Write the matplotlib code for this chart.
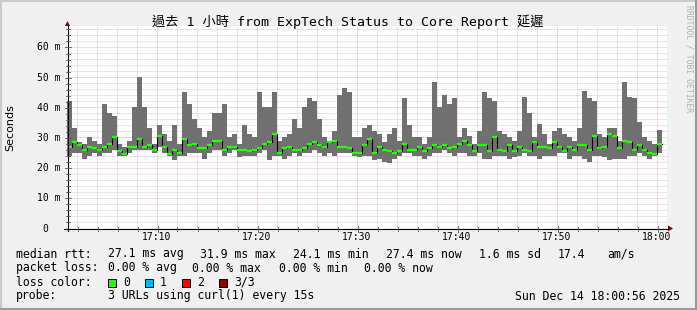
import matplotlib
matplotlib.use('Agg')
import matplotlib.pyplot as plt
from matplotlib.patches import Polygon, Rectangle
from matplotlib.lines import Line2D
import numpy as np

# ---------------- data (ms), one sample every 30 s starting 17:01 ----------------
start_minute = 1.0      # minutes after 17:00
step_minutes = 0.5
rtt_max = [42, 33, 28.5, 28, 30, 29, 28, 41, 38, 37, 28, 27, 29, 40, 50, 40, 33, 28, 34, 31,
           29, 34, 28, 45, 41, 36, 33, 30, 32, 38, 38, 41, 30, 31, 28, 34, 31, 30, 45, 40,
           40, 45, 29, 30, 31, 36, 33, 40, 43, 42, 36, 30, 29, 32, 44, 46.5, 45, 30, 30, 33,
           34, 32, 31, 28.5, 31, 33, 29, 43, 34, 30, 30, 28, 30, 48.5, 40, 44, 41, 43, 30, 33,
           30.5, 28, 32, 45, 43, 42, 32, 31, 30, 29, 32, 43.5, 38, 30, 34.5, 31, 28, 32, 33, 31,
           30, 29, 33, 45.5, 43, 42, 31, 30, 33, 33, 29, 48.5, 43.5, 43, 35, 30, 29, 28, 32.5]
rtt_min = [24, 25, 25, 23, 24, 25, 24, 25, 25, 26, 24, 24, 25, 26, 26, 26, 26, 25, 27, 25,
           24, 22.5, 24, 24, 25, 25, 25, 23, 25, 26, 26, 24, 25, 26, 23.5, 24, 24, 24, 25, 26,
           22.5, 24, 24, 23, 24, 25, 24, 25, 25, 26, 25, 24, 25, 24, 25, 25, 25, 24, 23.5, 24,
           24, 22.5, 23, 22, 21.5, 23, 24, 25, 25, 24, 24, 23, 24, 25, 25, 26, 25, 24, 25, 25,
           24, 24, 25, 23, 23, 24, 24, 24, 23, 23.5, 24, 25, 24, 24, 23, 24, 24, 24, 25, 25,
           23, 24, 24, 23, 22, 24, 24, 23.5, 22.5, 23, 23, 23, 24, 24, 25, 24, 23, 24, 25]
rtt_median = [27, 28.5, 27.5, 26, 27, 26.5, 26, 27, 28, 30, 25.5, 24.5, 27, 27, 29.5, 27, 27.5, 26, 30.5, 27,
              24.6, 26, 25, 29.5, 27.5, 28, 26.5, 26.5, 27.5, 29, 29, 26, 27, 27, 26, 26, 25.5, 26, 26.5, 28,
              28.5, 31, 25, 26.5, 27, 26, 26, 26.5, 28, 28.5, 27.5, 27, 28.5, 29, 27, 27, 26.5, 25, 25, 27.5,
              29.5, 25, 27, 26, 25.5, 25, 25.5, 28, 26, 26, 27, 25.5, 26.5, 27.5, 27, 27.5, 26.5, 27, 28, 29,
              27.5, 25.5, 27.5, 27.5, 25.5, 30, 26, 25.5, 27.5, 25.5, 27, 26, 25.5, 28.5, 27, 27, 26.5, 28.5, 27, 25.5,
              27, 26, 27.5, 27.5, 26, 30.5, 26.5, 27, 31, 30.5, 26.5, 29, 28.5, 26, 27.5, 26, 25, 24.5, 28]

xtick_minutes = [10, 20, 30, 40, 50, 60]
xtick_labels = ['17:10', '17:20', '17:30', '17:40', '17:50', '18:00']
ytick_values = [0, 10, 20, 30, 40, 50, 60]
ytick_labels = ['0', '10 m', '20 m', '30 m', '40 m', '50 m', '60 m']

title = '過去 1 小時 from ExpTech Status to Core Report 延遲'
legend_rtt = [('median rtt:', 16), ('27.1 ms avg', 107.6), ('31.9 ms max', 200), ('24.1 ms min', 293),
              ('27.4 ms now', 386), ('1.6 ms sd', 479), ('17.4', 558), ('am/s', 607)]
legend_loss = [('packet loss:', 16), ('0.00 % avg', 107.6), ('0.00 % max', 192.4),
               ('0.00 % min', 278.7), ('0.00 % now', 364.4)]
loss_labels = ['0', '1', '2', '3/3']
loss_colors = ['#26ff00', '#00b8ff', '#ff0000', '#8f0000']
probe_text = '3 URLs using curl(1) every 15s'
date_text = 'Sun Dec 14 18:00:56 2025'

# ---------------- figure ----------------
W, H = 697, 310
fig = plt.figure(figsize=(W / 100, H / 100), dpi=100, facecolor='#f0f0f0')
MONO = ['DejaVu Sans Mono', 'Noto Sans CJK TC']

def fx(x):
    return x / W

def fy(y):
    return 1 - y / H

PX_PER_MS = 3.0167
TOP = 26
ymax = (228 - TOP) / PX_PER_MS
ax = fig.add_axes([fx(67), fy(228), 600 / W, (228 - TOP) / H])
ax.set_facecolor('white')
ax.set_xlim(1, 61)
ax.set_ylim(0, ymax)
for s in ax.spines.values():
    s.set_visible(False)
ax.set_xticks([])
ax.set_yticks([])

# grid
grid_c = '#cccccc'
mgrid_c = '#f0aeae'
for v in range(2, 67, 2):
    if v % 10:
        ax.axhline(v, color=grid_c, lw=0.72, ls=(0, (1, 1)), zorder=1)
for v in range(10, 61, 10):
    ax.axhline(v, color=mgrid_c, lw=0.72, ls=(0, (1, 1)), zorder=1)
for m in range(2, 61, 2):
    if m % 10:
        ax.axvline(m, color=grid_c, lw=0.72, ls=(0, (1, 1)), zorder=1)
for m in xtick_minutes:
    ax.axvline(m, color=mgrid_c, lw=0.72, ls=(0, (1, 1)), zorder=1)

# data
n = len(rtt_median)
t = start_minute + step_minutes * np.arange(n)
te = np.append(t, t[-1] + step_minutes)
lo = np.array(rtt_min, float)
hi = np.array(rtt_max, float)
md = np.array(rtt_median, float)
ax.fill_between(te, np.append(lo, lo[-1]), np.append(hi, hi[-1]), step='post',
                color='#707070', lw=0, zorder=2)
ax.step(te, np.append(md, md[-1]), where='post', color='black', lw=0.8, zorder=3)
ax.hlines(md, t, t + step_minutes, color=loss_colors[0], lw=1.7, zorder=4, capstyle='butt')

# axes lines and arrows (figure pixel coords)
fig.add_artist(Line2D([fx(64), fx(668)], [fy(228.5), fy(228.5)], color='black', lw=0.8))
fig.add_artist(Line2D([fx(67.5), fx(67.5)], [fy(231), fy(25)], color='black', lw=0.8))
fig.add_artist(Polygon([(fx(668), fy(225.5)), (fx(673), fy(228.5)), (fx(668), fy(231.5))],
                       closed=True, color='#800000', lw=0))
fig.add_artist(Polygon([(fx(65), fy(26)), (fx(67.5), fy(21)), (fx(70), fy(26))],
                       closed=True, color='#800000', lw=0))
# small ticks on axes
for m in range(2, 61, 2):
    xp = 67 + (m - 1) * 10 + 0.5
    ln = 3 if m % 10 == 0 else 2
    fig.add_artist(Line2D([fx(xp), fx(xp)], [fy(228.5 - ln), fy(228.5 + ln)], color='#555555', lw=0.6))
for v in range(2, 67, 2):
    yp = 228.5 - v * PX_PER_MS
    ln = 3 if v % 10 == 0 else 2
    fig.add_artist(Line2D([fx(67.5 - ln), fx(67.5 + ln)], [fy(yp), fy(yp)], color='#555555', lw=0.6))

# tick labels
for v, lab in zip(ytick_values, ytick_labels):
    yp = 228.5 - v * PX_PER_MS
    xr = 60 if lab != '0' else 48.4
    fig.text(fx(xr), fy(yp), lab, ha='right', va='center', fontsize=7, family=MONO)
for m, lab in zip(xtick_minutes, xtick_labels):
    xp = 67 + (m - 1) * 10
    fig.text(fx(xp), fy(237.5), lab, ha='center', va='center', fontsize=7, family=MONO)

# title, unit, watermark
fig.text(fx(348), fy(21.5), title, ha='center', va='center', fontsize=9.5, family=MONO)
fig.text(fx(10), fy(128), 'Seconds', ha='center', va='center', rotation=90, fontsize=8,
         family='DejaVu Sans')
fig.text(fx(688.5), fy(5), 'RRDTOOL / TOBI OETIKER', ha='center', va='top', rotation=270,
         fontsize=5.8, family=MONO, color='#b0b0b0')

# legend
for txt, xp in legend_rtt:
    fig.text(fx(xp), fy(257.5), txt, ha='left', va='baseline', fontsize=8.3, family=MONO)
for txt, xp in legend_loss:
    fig.text(fx(xp), fy(271.5), txt, ha='left', va='baseline', fontsize=8.3, family=MONO)
fig.text(fx(16), fy(285.5), 'loss color:', ha='left', va='baseline', fontsize=8.3, family=MONO)
box_x = [108, 145.3, 182, 219]
lab_x = [123, 160, 197, 234]
for bx, lx, lab, col in zip(box_x, lab_x, loss_labels, loss_colors):
    fig.add_artist(Rectangle((fx(bx), fy(286.5)), 8 / W, 8 / H, facecolor=col,
                             edgecolor='black', lw=0.7))
    fig.text(fx(lx), fy(285.5), lab, ha='left', va='baseline', fontsize=8.3, family=MONO)
fig.text(fx(16), fy(299.5), 'probe:', ha='left', va='baseline', fontsize=8.3, family=MONO)
fig.text(fx(107.6), fy(299.5), probe_text, ha='left', va='baseline', fontsize=8.3, family=MONO)
fig.text(fx(680), fy(299.5), date_text, ha='right', va='baseline', fontsize=8.3, family=MONO)

# border shading
fig.add_artist(Line2D([0, 1], [fy(0.5), fy(0.5)], color='#cbcbcb', lw=1.5))
fig.add_artist(Line2D([fx(0.5), fx(0.5)], [0, 1], color='#cbcbcb', lw=1.5))
fig.add_artist(Line2D([0, 1], [fy(309), fy(309)], color='#999999', lw=1.5))
fig.add_artist(Line2D([fx(696), fx(696)], [0, 1], color='#999999', lw=1.5))

fig.savefig('out.png', dpi=100, facecolor=fig.get_facecolor())
